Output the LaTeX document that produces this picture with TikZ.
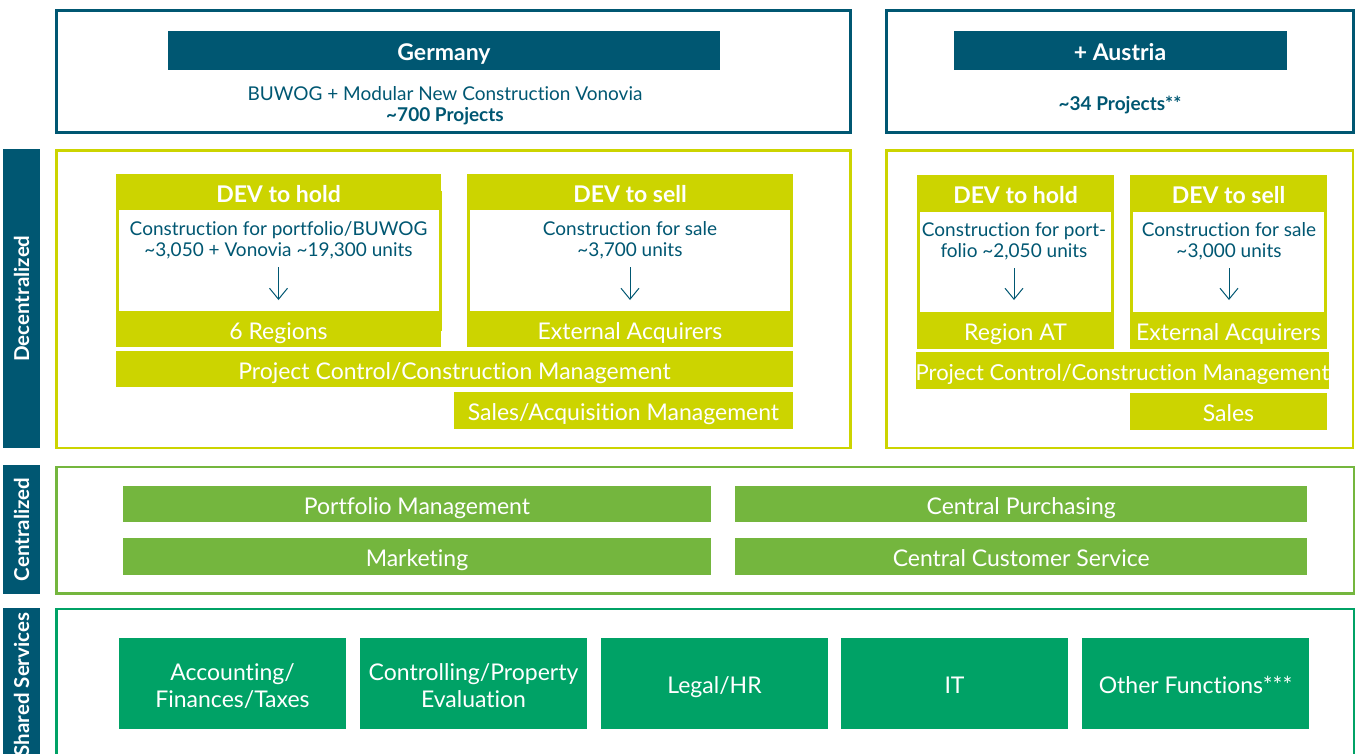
\documentclass[tikz,border=0pt]{standalone}
\usepackage{fontspec}
\setmainfont{Lato}[Ligatures={NoCommon}]
\usetikzlibrary{arrows.meta}

\definecolor{vnblue}{RGB}{0,87,114}
\definecolor{vnlime}{RGB}{204,212,0}
\definecolor{vngreen}{RGB}{116,182,62}
\definecolor{vnteal}{RGB}{0,162,102}

\tikzset{every picture/.style={line width=0.75pt}}
\tikzset{
  wh/.style 2 args={minimum width=#1pt, minimum height=#2pt},
  headbox/.style={inner sep=0pt, text=white, text height=20.5pt, text depth=0pt, font=\bfseries\fontsize{23}{27}\selectfont},
  bandbox/.style={inner sep=0pt, text=white, text height=20.5pt, text depth=0pt, font=\fontsize{23}{27}\selectfont, align=center},
  twoline/.style={text height=47.5pt},
  bodytext/.style={inner sep=0pt, text=vnblue, font=\fontsize{19}{21}\selectfont, align=center},
  sidebox/.style={fill=vnblue, inner sep=0pt, rotate=90, text=white, font=\bfseries\fontsize{20.5}{24}\selectfont},
  unitarrow/.style={vnblue, line width=1pt, -{Straight Barb[length=11pt,width=18pt]}},
}

\begin{document}
\begin{tikzpicture}[x=1pt,y=1pt,yscale=-1,xscale=1]
\useasboundingbox (0,0) rectangle (1357,753);
\clip (0,0) rectangle (1357,753);

%Side labels
\node[sidebox, wh={299}{37}] (decside) at (21.5,298.5) {Decentralized};
\node[sidebox, wh={129}{37}] (censide) at (21.5,529.5) {Centralized};
\node[sidebox, wh={153}{37}] (shaside) at (21.5,684.5) {Shared Services};

%Shape: Rectangle [Germany frame]
\draw [vnblue, line width=3pt] (56.5,10.5) rectangle (850.5,132.5) ;
%Shape: Rectangle [Austria frame]
\draw [vnblue, line width=3pt] (886.5,10.5) rectangle (1353.5,132.5) ;
\node[headbox, fill=vnblue, wh={552}{39}] (gerhead) at (444,50.5) {Germany};
\node[bodytext] (gersub) at (445,105.5) {BUWOG + Modular New Construction Vonovia\\\textbf{\textasciitilde700 Projects}};
\node[headbox, fill=vnblue, wh={333}{39}] (authead) at (1120,50.5) {+ Austria};
\node[bodytext, font=\bfseries\fontsize{19}{21}\selectfont] (autsub) at (1120,105) {\textasciitilde34 Projects**};

%Shape: Rectangle [Decentralized frames]
\draw [vnlime, line width=2.5pt] (56.5,150.5) rectangle (850.5,448) ;
\draw [vnlime, line width=2.5pt] (886.5,150.5) rectangle (1353,448) ;

%DEV to hold - Germany
\draw [vnlime, line width=3pt, fill=white] (117.5,192) rectangle (440.5,329) ;
\node[headbox, fill=vnlime, wh={325}{36}] (holdG) at (278.5,192) {DEV to hold};
\node[bodytext] (holdGtxt) at (278.5,240.5) {Construction for portfolio/BUWOG\\\textasciitilde3,050 + Vonovia \textasciitilde19,300 units};
\node[bandbox, fill=vnlime, wh={325}{36}] (regG) at (278.5,329) {6 Regions};
\coordinate (holdGa) at (278.5,267);
\coordinate (holdGb) at (278.5,300);
\draw [unitarrow] (holdGa) -- (holdGb) ;

%DEV to sell - Germany
\draw [vnlime, line width=3pt, fill=white] (468.5,192) rectangle (791.5,329) ;
\node[headbox, fill=vnlime, wh={326}{36}] (sellG) at (630,192) {DEV to sell};
\node[bodytext] (sellGtxt) at (630,240.5) {Construction for sale\\\textasciitilde3,700 units};
\node[bandbox, fill=vnlime, wh={326}{36}] (extG) at (630,329) {External Acquirers};
\coordinate (sellGa) at (630,267);
\coordinate (sellGb) at (630,300);
\draw [unitarrow] (sellGa) -- (sellGb) ;

\node[bandbox, fill=vnlime, wh={677}{36.5}] (pcG) at (454.5,369.2) {Project Control/Construction Management};
\node[bandbox, fill=vnlime, wh={339}{36.5}] (salG) at (623.5,410.5) {Sales/Acquisition Management};

%DEV to hold - Austria
\draw [vnlime, line width=3pt, fill=white] (918.5,193.5) rectangle (1112.5,330.5) ;
\node[headbox, fill=vnlime, wh={197}{37}] (holdA) at (1015.5,193.5) {DEV to hold};
\node[bodytext] (holdAtxt) at (1014,241.5) {Construction for port-\\folio \textasciitilde2,050 units};
\node[bandbox, fill=vnlime, wh={197}{37}] (regA) at (1015.5,330.5) {Region AT};
\coordinate (holdAa) at (1014,268);
\coordinate (holdAb) at (1014,300);
\draw [unitarrow] (holdAa) -- (holdAb) ;

%DEV to sell - Austria
\draw [vnlime, line width=3pt, fill=white] (1131.5,193.5) rectangle (1325.5,330.5) ;
\node[headbox, fill=vnlime, wh={197}{37}] (sellA) at (1228.5,193.5) {DEV to sell};
\node[bodytext] (sellAtxt) at (1229,241.5) {Construction for sale\\\textasciitilde3,000 units};
\node[bandbox, fill=vnlime, wh={197}{37}] (extA) at (1228.5,330.5) {External Acquirers};
\coordinate (sellAa) at (1229,268);
\coordinate (sellAb) at (1229,300);
\draw [unitarrow] (sellAa) -- (sellAb) ;

\node[bandbox, fill=vnlime, wh={411}{36.5}, font=\fontsize{22}{26}\selectfont] (pcA) at (1122.5,370.5) {Project Control/Construction Management};
\node[bandbox, fill=vnlime, wh={197}{36.5}] (salA) at (1228.5,411.5) {Sales};

%Shape: Rectangle [Centralized frame]
\draw [vngreen, line width=2.5pt] (56.5,467) rectangle (1354,593.5) ;
\node[bandbox, fill=vngreen, wh={588}{36.5}] (portm) at (417,504.2) {Portfolio Management};
\node[bandbox, fill=vngreen, wh={572.5}{36.5}] (purch) at (1021.2,504.2) {Central Purchasing};
\node[bandbox, fill=vngreen, wh={588}{37}] (markt) at (417,556.5) {Marketing};
\node[bandbox, fill=vngreen, wh={572.5}{37}] (custs) at (1021.2,556.5) {Central Customer Service};

%Shape: Rectangle [Shared Services frame]
\draw [vnteal, line width=2.5pt] (56.5,609) rectangle (1354,790) ;
\node[bandbox, twoline, fill=vnteal, wh={227}{90.5}] (accnt) at (232.5,683.5) {Accounting/\\Finances/Taxes};
\node[bandbox, twoline, fill=vnteal, wh={227}{90.5}] (contr) at (473.5,683.5) {Controlling/Property\\Evaluation};
\node[bandbox, fill=vnteal, wh={227}{90.5}] (legal) at (714.5,683.5) {Legal/HR};
\node[bandbox, fill=vnteal, wh={227}{90.5}] (infot) at (954.5,683.5) {IT};
\node[bandbox, fill=vnteal, wh={227}{90.5}] (other) at (1195.5,683.5) {Other Functions***};

\end{tikzpicture}
\end{document}
